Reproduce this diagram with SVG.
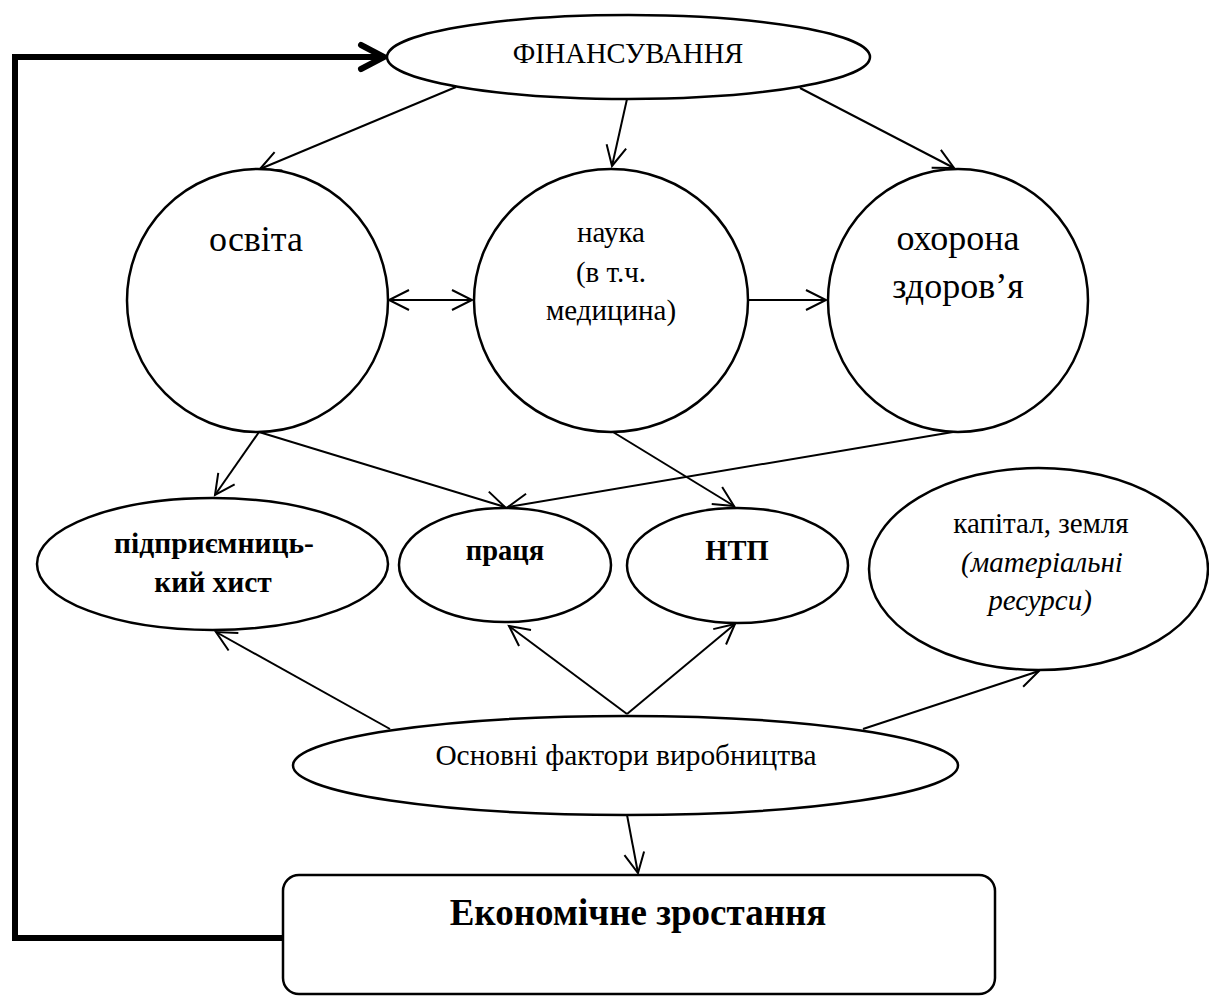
<svg xmlns="http://www.w3.org/2000/svg" width="1209" height="997" viewBox="0 0 1209 997">
<style>
.n{fill:#fff;stroke:#000;stroke-width:2.5}
.t{font-family:"Liberation Serif","Times New Roman",serif;fill:#000;text-anchor:middle}
.b{font-weight:bold}
.i{font-style:italic}
.c{fill:none;stroke:#000;stroke-width:2}
.fb{fill:none;stroke:#000;stroke-width:6}
</style>
<defs>
<marker id="ah" markerUnits="userSpaceOnUse" markerWidth="26" markerHeight="26" refX="21" refY="12" orient="auto-start-reverse" overflow="visible">
<path d="M1,2 L21,12 L1,22" fill="none" stroke="#000" stroke-width="2"/>
</marker>
<marker id="ahb" markerUnits="userSpaceOnUse" markerWidth="30" markerHeight="30" refX="24" refY="13" orient="auto" overflow="visible">
<path d="M1,1 L24,13 L1,25" fill="none" stroke="#000" stroke-width="6" stroke-linecap="round" stroke-linejoin="miter"/>
</marker>
</defs>
<rect width="1209" height="997" fill="#fff"/>

<g id="connectors">
<path class="fb" d="M283,938 L15,938 L15,57 L384,57" marker-end="url(#ahb)"/>
<line class="c" x1="456" y1="87" x2="260" y2="169" marker-end="url(#ah)"/>
<line class="c" x1="627" y1="99" x2="612" y2="166" marker-end="url(#ah)"/>
<line class="c" x1="800" y1="88" x2="954" y2="168" marker-end="url(#ah)"/>
<line class="c" x1="389" y1="300" x2="472" y2="300" marker-start="url(#ah)" marker-end="url(#ah)"/>
<line class="c" x1="748" y1="300" x2="826" y2="300" marker-end="url(#ah)"/>
<line class="c" x1="259" y1="432" x2="215" y2="495" marker-end="url(#ah)"/>
<line class="c" x1="259" y1="432" x2="505" y2="507" marker-end="url(#ah)"/>
<line class="c" x1="953" y1="432" x2="508" y2="507" marker-end="url(#ah)"/>
<line class="c" x1="613" y1="432" x2="734" y2="506" marker-end="url(#ah)"/>
<line class="c" x1="390" y1="729" x2="216" y2="632" marker-end="url(#ah)"/>
<line class="c" x1="627" y1="714" x2="509" y2="626" marker-end="url(#ah)"/>
<line class="c" x1="627" y1="714" x2="735" y2="624" marker-end="url(#ah)"/>
<line class="c" x1="863" y1="729" x2="1039" y2="671" marker-end="url(#ah)"/>
<line class="c" x1="627" y1="815" x2="638" y2="873" marker-end="url(#ah)"/>
</g>

<g id="finansuvannia">
<ellipse class="n" cx="628.5" cy="57" rx="241.5" ry="42"/>
<text class="t" x="628" y="63" font-size="28.5">ФІНАНСУВАННЯ</text>
</g>

<g id="osvita">
<ellipse class="n" cx="257.5" cy="300.5" rx="130.5" ry="131.5"/>
<text class="t" x="256" y="251" font-size="36">освіта</text>
</g>

<g id="nauka">
<ellipse class="n" cx="611" cy="300.5" rx="137" ry="131.5"/>
<text class="t" x="611" y="242" font-size="29">наука</text>
<text class="t" x="611" y="282" font-size="29">(в т.ч.</text>
<text class="t" x="611" y="320" font-size="29">медицина)</text>
</g>

<g id="okhorona">
<ellipse class="n" cx="958" cy="300.5" rx="130" ry="131.5"/>
<text class="t" x="958" y="250" font-size="36">охорона</text>
<text class="t" x="958" y="298" font-size="36">здоров’я</text>
</g>

<g id="pidpryiemnytskyi">
<ellipse class="n" cx="212.5" cy="564" rx="175.5" ry="66"/>
<text class="t b" x="214" y="553" font-size="29.5">підприємниць-</text>
<text class="t b" x="213" y="592" font-size="29.5">кий хист</text>
</g>

<g id="pratsia">
<ellipse class="n" cx="505" cy="565" rx="106" ry="57"/>
<text class="t b" x="505" y="560" font-size="28.5">праця</text>
</g>

<g id="ntp">
<ellipse class="n" cx="737.5" cy="565.5" rx="110.5" ry="57.5"/>
<text class="t b" x="737" y="560" font-size="28.5">НТП</text>
</g>

<g id="kapital">
<ellipse class="n" cx="1038.5" cy="569" rx="169.5" ry="101"/>
<text class="t" x="1041" y="533" font-size="29">капітал, земля</text>
<text class="t i" x="1042" y="572" font-size="29">(матеріальні</text>
<text class="t i" x="1040" y="610" font-size="29">ресурси)</text>
</g>

<g id="osnovni">
<ellipse class="n" cx="625.5" cy="765.5" rx="332.5" ry="49.5"/>
<text class="t" x="626" y="765" font-size="29.4">Основні фактори виробництва</text>
</g>

<g id="ekonomichne">
<rect class="n" x="283" y="875" width="712" height="119" rx="16" ry="16"/>
<text class="t b" x="638" y="925" font-size="37">Економічне зростання</text>
</g>
</svg>
